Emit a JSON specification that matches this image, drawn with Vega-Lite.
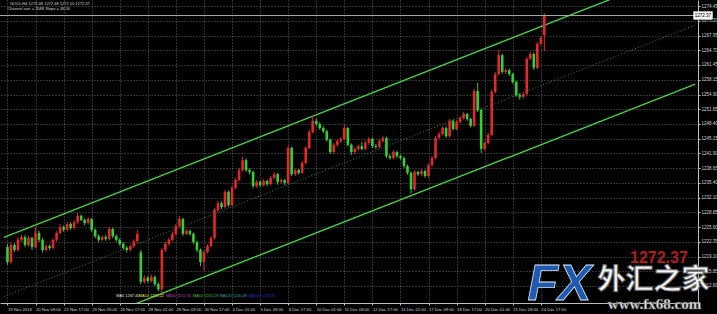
{
  "$schema": "https://vega.github.io/schema/vega-lite/v6.json",
  "width": 698,
  "height": 303,
  "autosize": {"type": "none"},
  "padding": {"left": 0, "top": 0, "right": 19, "bottom": 11},
  "background": "#000000",
  "config": {
    "view": {"stroke": null},
    "axis": {"title": null, "labelFont": "Liberation Sans", "labelColor": "#d2d2d2", "domainColor": "#bdbdbd", "tickColor": "#bdbdbd", "gridColor": "#7c7c7c", "gridDash": [1, 2], "gridWidth": 1, "gridOpacity": 0.8}
  },
  "datasets": {
    "bars": [
      {"i":0,"o":1221.2,"h":1221.8,"l":1217.3,"c":1217.9},
      {"i":1,"o":1217.9,"h":1222.2,"l":1217.5,"c":1221.65},
      {"i":2,"o":1221.65,"h":1222.0,"l":1220.1,"c":1220.55},
      {"i":3,"o":1220.55,"h":1223.3,"l":1220.2,"c":1222.8},
      {"i":4,"o":1222.8,"h":1223.9,"l":1222.4,"c":1223.4},
      {"i":5,"o":1223.4,"h":1223.8,"l":1221.2,"c":1221.65},
      {"i":6,"o":1221.65,"h":1223.7,"l":1221.3,"c":1223.2},
      {"i":7,"o":1223.2,"h":1223.5,"l":1220.6,"c":1221.2},
      {"i":8,"o":1221.2,"h":1225.6,"l":1220.9,"c":1224.3},
      {"i":9,"o":1224.3,"h":1224.8,"l":1222.3,"c":1222.8},
      {"i":10,"o":1222.8,"h":1223.2,"l":1220.0,"c":1220.55},
      {"i":11,"o":1220.55,"h":1221.9,"l":1220.2,"c":1221.4},
      {"i":12,"o":1221.4,"h":1221.8,"l":1220.5,"c":1221.0},
      {"i":13,"o":1221.0,"h":1223.1,"l":1220.7,"c":1222.8},
      {"i":14,"o":1222.8,"h":1224.7,"l":1222.4,"c":1224.3},
      {"i":15,"o":1224.3,"h":1226.3,"l":1224.0,"c":1225.6},
      {"i":16,"o":1225.6,"h":1226.0,"l":1224.6,"c":1225.0},
      {"i":17,"o":1225.0,"h":1226.8,"l":1224.7,"c":1226.3},
      {"i":18,"o":1226.3,"h":1226.7,"l":1225.0,"c":1225.4},
      {"i":19,"o":1225.4,"h":1227.1,"l":1225.1,"c":1226.7},
      {"i":20,"o":1226.7,"h":1228.8,"l":1226.4,"c":1228.1},
      {"i":21,"o":1228.1,"h":1228.4,"l":1226.9,"c":1227.2},
      {"i":22,"o":1227.2,"h":1227.5,"l":1226.0,"c":1226.5},
      {"i":23,"o":1226.5,"h":1227.8,"l":1226.2,"c":1227.4},
      {"i":24,"o":1227.4,"h":1227.6,"l":1224.6,"c":1225.0},
      {"i":25,"o":1225.0,"h":1225.3,"l":1223.2,"c":1223.6},
      {"i":26,"o":1223.6,"h":1224.0,"l":1222.3,"c":1222.8},
      {"i":27,"o":1222.8,"h":1223.8,"l":1222.5,"c":1223.4},
      {"i":28,"o":1223.4,"h":1223.9,"l":1222.6,"c":1223.0},
      {"i":29,"o":1223.0,"h":1225.7,"l":1222.7,"c":1225.2},
      {"i":30,"o":1225.2,"h":1225.5,"l":1223.2,"c":1223.6},
      {"i":31,"o":1223.6,"h":1224.0,"l":1222.4,"c":1222.8},
      {"i":32,"o":1222.8,"h":1223.1,"l":1221.5,"c":1221.9},
      {"i":33,"o":1221.9,"h":1222.3,"l":1220.6,"c":1221.0},
      {"i":34,"o":1221.0,"h":1221.4,"l":1220.0,"c":1220.55},
      {"i":35,"o":1220.55,"h":1221.8,"l":1220.2,"c":1221.4},
      {"i":36,"o":1221.4,"h":1222.9,"l":1221.0,"c":1222.5},
      {"i":37,"o":1222.5,"h":1225.0,"l":1222.2,"c":1224.1},
      {"i":38,"o":1220.0,"h":1220.6,"l":1213.0,"c":1213.5},
      {"i":39,"o":1213.5,"h":1215.0,"l":1213.1,"c":1214.4},
      {"i":40,"o":1214.4,"h":1214.8,"l":1213.3,"c":1213.7},
      {"i":41,"o":1213.7,"h":1215.1,"l":1213.4,"c":1214.6},
      {"i":42,"o":1214.6,"h":1214.9,"l":1212.6,"c":1213.0},
      {"i":43,"o":1213.0,"h":1213.4,"l":1211.4,"c":1211.9},
      {"i":44,"o":1211.9,"h":1221.0,"l":1211.0,"c":1220.55},
      {"i":45,"o":1220.55,"h":1222.4,"l":1220.1,"c":1221.9},
      {"i":46,"o":1221.9,"h":1223.3,"l":1221.5,"c":1222.8},
      {"i":47,"o":1222.8,"h":1224.6,"l":1222.5,"c":1224.1},
      {"i":48,"o":1224.1,"h":1226.3,"l":1223.8,"c":1225.85},
      {"i":49,"o":1225.85,"h":1228.1,"l":1225.5,"c":1227.4},
      {"i":50,"o":1227.4,"h":1227.7,"l":1223.7,"c":1224.1},
      {"i":51,"o":1224.1,"h":1225.2,"l":1223.8,"c":1224.75},
      {"i":52,"o":1224.75,"h":1225.1,"l":1223.7,"c":1224.1},
      {"i":53,"o":1224.1,"h":1224.4,"l":1221.9,"c":1222.3},
      {"i":54,"o":1222.3,"h":1222.6,"l":1220.1,"c":1220.55},
      {"i":55,"o":1220.55,"h":1220.9,"l":1217.0,"c":1217.9},
      {"i":56,"o":1217.9,"h":1220.5,"l":1216.1,"c":1220.1},
      {"i":57,"o":1220.1,"h":1221.8,"l":1219.8,"c":1221.4},
      {"i":58,"o":1221.4,"h":1223.6,"l":1221.1,"c":1223.2},
      {"i":59,"o":1223.2,"h":1229.9,"l":1222.9,"c":1229.4},
      {"i":60,"o":1229.4,"h":1231.4,"l":1229.0,"c":1230.9},
      {"i":61,"o":1230.9,"h":1231.3,"l":1229.6,"c":1230.05},
      {"i":62,"o":1230.05,"h":1233.9,"l":1229.7,"c":1233.4},
      {"i":63,"o":1233.4,"h":1233.7,"l":1230.1,"c":1230.5},
      {"i":64,"o":1230.5,"h":1234.8,"l":1230.2,"c":1234.3},
      {"i":65,"o":1234.3,"h":1236.5,"l":1233.9,"c":1236.0},
      {"i":66,"o":1236.0,"h":1238.7,"l":1235.7,"c":1238.2},
      {"i":67,"o":1238.2,"h":1241.1,"l":1237.9,"c":1240.4},
      {"i":68,"o":1240.4,"h":1240.8,"l":1237.8,"c":1238.2},
      {"i":69,"o":1238.2,"h":1238.6,"l":1237.3,"c":1237.8},
      {"i":70,"o":1237.8,"h":1238.1,"l":1234.2,"c":1234.7},
      {"i":71,"o":1234.7,"h":1236.0,"l":1234.3,"c":1235.6},
      {"i":72,"o":1235.6,"h":1236.0,"l":1234.5,"c":1234.9},
      {"i":73,"o":1234.9,"h":1236.2,"l":1234.6,"c":1235.8},
      {"i":74,"o":1235.8,"h":1236.1,"l":1234.7,"c":1235.1},
      {"i":75,"o":1235.1,"h":1236.9,"l":1234.8,"c":1236.5},
      {"i":76,"o":1236.5,"h":1237.8,"l":1236.2,"c":1237.3},
      {"i":77,"o":1237.3,"h":1237.6,"l":1235.0,"c":1235.6},
      {"i":78,"o":1235.6,"h":1236.4,"l":1235.2,"c":1236.0},
      {"i":79,"o":1236.0,"h":1236.3,"l":1234.9,"c":1235.4},
      {"i":80,"o":1235.4,"h":1243.6,"l":1235.1,"c":1243.1},
      {"i":81,"o":1243.1,"h":1243.4,"l":1236.9,"c":1237.3},
      {"i":82,"o":1237.3,"h":1238.6,"l":1236.9,"c":1238.2},
      {"i":83,"o":1238.2,"h":1238.5,"l":1237.2,"c":1237.6},
      {"i":84,"o":1237.6,"h":1240.2,"l":1237.3,"c":1239.8},
      {"i":85,"o":1239.8,"h":1243.5,"l":1239.5,"c":1243.1},
      {"i":86,"o":1243.1,"h":1247.1,"l":1242.8,"c":1246.6},
      {"i":87,"o":1246.6,"h":1250.2,"l":1246.3,"c":1249.1},
      {"i":88,"o":1249.1,"h":1249.6,"l":1248.0,"c":1248.4},
      {"i":89,"o":1248.4,"h":1248.8,"l":1247.1,"c":1247.5},
      {"i":90,"o":1247.5,"h":1247.9,"l":1246.4,"c":1246.8},
      {"i":91,"o":1246.8,"h":1247.1,"l":1244.5,"c":1244.9},
      {"i":92,"o":1244.9,"h":1245.2,"l":1241.8,"c":1242.2},
      {"i":93,"o":1242.2,"h":1244.2,"l":1241.9,"c":1243.8},
      {"i":94,"o":1243.8,"h":1245.0,"l":1243.4,"c":1244.6},
      {"i":95,"o":1244.6,"h":1245.5,"l":1244.2,"c":1245.1},
      {"i":96,"o":1245.1,"h":1248.3,"l":1244.8,"c":1247.5},
      {"i":97,"o":1247.5,"h":1247.8,"l":1243.4,"c":1243.8},
      {"i":98,"o":1243.8,"h":1244.1,"l":1241.6,"c":1242.2},
      {"i":99,"o":1242.2,"h":1243.3,"l":1241.8,"c":1242.9},
      {"i":100,"o":1242.9,"h":1243.9,"l":1242.5,"c":1243.5},
      {"i":101,"o":1243.5,"h":1244.4,"l":1242.5,"c":1242.9},
      {"i":102,"o":1242.9,"h":1244.6,"l":1242.6,"c":1244.2},
      {"i":103,"o":1244.2,"h":1245.5,"l":1243.8,"c":1245.1},
      {"i":104,"o":1245.1,"h":1245.4,"l":1243.1,"c":1243.5},
      {"i":105,"o":1243.5,"h":1244.0,"l":1242.9,"c":1243.3},
      {"i":106,"o":1243.3,"h":1245.0,"l":1243.0,"c":1244.6},
      {"i":107,"o":1244.6,"h":1245.8,"l":1244.3,"c":1245.3},
      {"i":108,"o":1245.3,"h":1245.6,"l":1240.9,"c":1241.3},
      {"i":109,"o":1241.3,"h":1241.7,"l":1240.5,"c":1240.9},
      {"i":110,"o":1240.9,"h":1242.6,"l":1240.6,"c":1242.2},
      {"i":111,"o":1242.2,"h":1242.5,"l":1240.9,"c":1241.3},
      {"i":112,"o":1241.3,"h":1241.6,"l":1240.5,"c":1240.9},
      {"i":113,"o":1240.9,"h":1241.2,"l":1238.7,"c":1239.1},
      {"i":114,"o":1239.1,"h":1239.4,"l":1237.2,"c":1237.6},
      {"i":115,"o":1237.6,"h":1237.9,"l":1233.1,"c":1234.0},
      {"i":116,"o":1234.0,"h":1238.2,"l":1233.7,"c":1237.8},
      {"i":117,"o":1237.8,"h":1238.1,"l":1236.9,"c":1237.3},
      {"i":118,"o":1237.3,"h":1238.4,"l":1237.0,"c":1238.0},
      {"i":119,"o":1238.0,"h":1238.3,"l":1236.5,"c":1236.9},
      {"i":120,"o":1236.9,"h":1239.7,"l":1236.6,"c":1239.3},
      {"i":121,"o":1239.3,"h":1241.3,"l":1239.0,"c":1240.9},
      {"i":122,"o":1240.9,"h":1245.7,"l":1240.6,"c":1245.3},
      {"i":123,"o":1245.3,"h":1246.6,"l":1245.0,"c":1246.2},
      {"i":124,"o":1246.2,"h":1247.9,"l":1245.9,"c":1247.5},
      {"i":125,"o":1247.5,"h":1247.8,"l":1245.3,"c":1245.7},
      {"i":126,"o":1245.7,"h":1249.5,"l":1245.4,"c":1249.1},
      {"i":127,"o":1249.1,"h":1249.4,"l":1246.9,"c":1247.3},
      {"i":128,"o":1247.3,"h":1249.2,"l":1247.0,"c":1248.8},
      {"i":129,"o":1248.8,"h":1250.1,"l":1248.5,"c":1249.7},
      {"i":130,"o":1249.7,"h":1251.1,"l":1249.4,"c":1250.6},
      {"i":131,"o":1250.6,"h":1250.9,"l":1249.1,"c":1249.5},
      {"i":132,"o":1249.5,"h":1249.8,"l":1247.6,"c":1248.0},
      {"i":133,"o":1248.0,"h":1256.2,"l":1247.7,"c":1255.7},
      {"i":134,"o":1255.7,"h":1257.5,"l":1251.1,"c":1251.5},
      {"i":135,"o":1251.5,"h":1251.8,"l":1242.0,"c":1242.9},
      {"i":136,"o":1242.9,"h":1244.6,"l":1242.5,"c":1244.2},
      {"i":137,"o":1244.2,"h":1246.4,"l":1243.9,"c":1246.0},
      {"i":138,"o":1246.0,"h":1256.0,"l":1245.7,"c":1255.5},
      {"i":139,"o":1255.5,"h":1259.9,"l":1255.2,"c":1259.4},
      {"i":140,"o":1259.4,"h":1264.75,"l":1259.1,"c":1263.6},
      {"i":141,"o":1263.6,"h":1263.9,"l":1259.5,"c":1259.9},
      {"i":142,"o":1259.9,"h":1260.7,"l":1259.5,"c":1260.3},
      {"i":143,"o":1260.3,"h":1260.6,"l":1259.0,"c":1259.4},
      {"i":144,"o":1259.4,"h":1259.7,"l":1257.3,"c":1257.7},
      {"i":145,"o":1257.7,"h":1258.0,"l":1254.4,"c":1254.8},
      {"i":146,"o":1254.8,"h":1255.2,"l":1253.8,"c":1254.4},
      {"i":147,"o":1254.4,"h":1255.4,"l":1254.0,"c":1255.0},
      {"i":148,"o":1255.0,"h":1263.2,"l":1254.7,"c":1262.8},
      {"i":149,"o":1262.8,"h":1264.4,"l":1262.5,"c":1263.9},
      {"i":150,"o":1263.9,"h":1264.2,"l":1260.3,"c":1260.8},
      {"i":151,"o":1260.8,"h":1266.5,"l":1260.5,"c":1266.1},
      {"i":152,"o":1266.1,"h":1267.9,"l":1265.8,"c":1267.4},
      {"i":153,"o":1268.0,"h":1272.9,"l":1264.5,"c":1272.37}
    ],
    "channel": [
      {"side": "upper", "i": -1, "p": 1223.33},
      {"side": "upper", "i": 196, "p": 1283.3},
      {"side": "lower", "i": -1, "p": 1197.25},
      {"side": "lower", "i": 196, "p": 1257.2}
    ],
    "middle": [
      {"i": -1, "p": 1210.29},
      {"i": 196, "p": 1270.26}
    ]
  },
  "layer": [
    {
      "data": {"name": "channel"},
      "mark": {"type": "line", "color": "#3fd43f", "strokeWidth": 1.4, "clip": true},
      "encoding": {
        "x": {
          "field": "i", "type": "quantitative",
          "scale": {"domain": [-0.702, 195.37], "nice": false, "zero": false},
          "axis": {
            "orient": "bottom",
            "values": [0, 8, 16, 24, 32, 40, 48, 56, 64, 72, 80, 88, 96, 104, 112, 120, 128, 136, 144, 152],
            "tickCount": 200,
            "labelExpr": "['19 Nov 2018','20 Nov 09:00','21 Nov 17:00','23 Nov 05:00','26 Nov 17:00','28 Nov 01:00','29 Nov 09:00','30 Nov 17:00','4 Dec 01:00','5 Dec 09:00','6 Dec 17:00','10 Dec 01:00','11 Dec 09:00','12 Dec 17:00','14 Dec 01:00','17 Dec 09:00','18 Dec 17:00','20 Dec 01:00','21 Dec 09:00','24 Dec 17:00'][round(datum.value / 8)]",
            "labelAlign": "left", "labelFontSize": 4.2, "labelPadding": 2, "labelFlush": false, "labelOverlap": false,
            "tickSize": 2, "grid": true
          }
        },
        "y": {
          "field": "p", "type": "quantitative",
          "scale": {"domain": [1208.84, 1275.8], "nice": false, "zero": false},
          "axis": {
            "orient": "right",
            "values": [1274.45, 1271.2, 1267.95, 1264.7, 1261.45, 1258.15, 1254.9, 1251.65, 1248.4, 1245.15, 1241.9, 1238.65, 1235.4, 1232.1, 1228.85, 1225.6, 1222.35, 1219.1, 1215.85, 1212.6],
            "tickCount": 200,
            "format": ".2f", "labelFontSize": 4.5, "labelPadding": 1, "labelOverlap": false, "labelFlush": false,
            "tickSize": 2, "grid": true
          }
        },
        "detail": {"field": "side"}
      }
    },
    {
      "data": {"name": "middle"},
      "mark": {"type": "line", "color": "#2f8a2f", "strokeWidth": 1, "strokeDash": [1, 2], "clip": true},
      "encoding": {
        "x": {"field": "i", "type": "quantitative"},
        "y": {"field": "p", "type": "quantitative"}
      }
    },
    {
      "data": {"name": "bars"},
      "mark": {"type": "rule", "strokeWidth": 1},
      "encoding": {
        "x": {"field": "i", "type": "quantitative"},
        "y": {"field": "l", "type": "quantitative"},
        "y2": {"field": "h"},
        "color": {"condition": {"test": "datum.c >= datum.o", "value": "#e8262a"}, "value": "#33d033"}
      }
    },
    {
      "data": {"name": "bars"},
      "mark": {"type": "bar", "size": 2.6},
      "encoding": {
        "x": {"field": "i", "type": "quantitative"},
        "y": {"field": "o", "type": "quantitative"},
        "y2": {"field": "c"},
        "color": {"condition": {"test": "datum.c >= datum.o", "value": "#e8262a"}, "value": "#33d033"}
      }
    },
    {
      "data": {"values": [{"bid": 1272.37}]},
      "mark": {"type": "rule", "color": "#a8a8a8", "strokeWidth": 1},
      "encoding": {"y": {"field": "bid", "type": "quantitative"}}
    },
    {
      "data": {"values": [{"bid": 1272.37}]},
      "mark": {"type": "rect", "color": "#f2f2f2", "clip": false},
      "encoding": {
        "x": {"datum": 195.45}, "x2": {"datum": 201},
        "y": {"datum": 1273.3}, "y2": {"datum": 1271.45}
      }
    },
    {
      "data": {"values": [{"bid": 1272.37}]},
      "mark": {"type": "text", "color": "#000000", "font": "Liberation Sans", "fontSize": 4.5, "align": "left", "baseline": "middle", "clip": false},
      "encoding": {
        "x": {"datum": 195.9},
        "y": {"field": "bid", "type": "quantitative"},
        "text": {"field": "bid", "format": ".2f"}
      }
    },
    {
      "data": {"values": [{"t": "GOLD,H4  1272.48 1272.48 1272.10 1272.37"}]},
      "mark": {"type": "text", "color": "#d6d6d6", "font": "Liberation Sans", "fontSize": 4, "align": "left", "baseline": "middle"},
      "encoding": {"x": {"datum": 0.7}, "y": {"datum": 1275.0}, "text": {"field": "t"}}
    },
    {
      "data": {"values": [{"t": "Channel size = 3588  Slope = 38.56"}]},
      "mark": {"type": "text", "color": "#d6d6d6", "font": "Liberation Sans", "fontSize": 4, "align": "left", "baseline": "middle"},
      "encoding": {"x": {"datum": 0}, "y": {"datum": 1273.9}, "text": {"field": "t"}}
    },
    {
      "data": {"values": [{"t": "MA5 1267.40"}]},
      "mark": {"type": "text", "color": "#e0e0e0", "font": "Liberation Sans", "fontSize": 3.9, "align": "left", "baseline": "middle"},
      "encoding": {"x": {"datum": 31.0}, "y": {"datum": 1210.4}, "text": {"field": "t"}}
    },
    {
      "data": {"values": [{"t": "MA10 1263.22"}]},
      "mark": {"type": "text", "color": "#e6e62a", "font": "Liberation Sans", "fontSize": 3.9, "align": "left", "baseline": "middle"},
      "encoding": {"x": {"datum": 37.4}, "y": {"datum": 1210.4}, "text": {"field": "t"}}
    },
    {
      "data": {"values": [{"t": "MA30 1255.92"}]},
      "mark": {"type": "text", "color": "#c235c2", "font": "Liberation Sans", "fontSize": 3.9, "align": "left", "baseline": "middle"},
      "encoding": {"x": {"datum": 45.1}, "y": {"datum": 1210.4}, "text": {"field": "t"}}
    },
    {
      "data": {"values": [{"t": "MA60 1250.29"}]},
      "mark": {"type": "text", "color": "#3cc03c", "font": "Liberation Sans", "fontSize": 3.9, "align": "left", "baseline": "middle"},
      "encoding": {"x": {"datum": 52.8}, "y": {"datum": 1210.4}, "text": {"field": "t"}}
    },
    {
      "data": {"values": [{"t": "MA120 1240.48"}]},
      "mark": {"type": "text", "color": "#2fa6a6", "font": "Liberation Sans", "fontSize": 3.9, "align": "left", "baseline": "middle"},
      "encoding": {"x": {"datum": 60.4}, "y": {"datum": 1210.4}, "text": {"field": "t"}}
    },
    {
      "data": {"values": [{"t": "MA240 1235.85"}]},
      "mark": {"type": "text", "color": "#2a2ad0", "font": "Liberation Sans", "fontSize": 3.9, "align": "left", "baseline": "middle"},
      "encoding": {"x": {"datum": 68.6}, "y": {"datum": 1210.4}, "text": {"field": "t"}}
    },
    {
      "data": {"values": [{"bid": 1272.37}]},
      "mark": {"type": "text", "color": "#d42020", "font": "Liberation Sans", "fontWeight": "bold", "fontSize": 16, "align": "right", "baseline": "middle", "opacity": 0.85, "clip": false},
      "encoding": {"x": {"datum": 193.9}, "y": {"datum": 1218.8}, "text": {"field": "bid", "format": ".2f"}}
    },
    {
      "data": {"values": [{"t": "FX"}]},
      "mark": {"type": "text", "color": "#1e5bb0", "font": "Liberation Sans", "fontWeight": "bold", "fontStyle": "italic", "fontSize": 50, "align": "left", "baseline": "alphabetic", "stroke": "#d8e2f0", "strokeWidth": 0.8, "clip": false},
      "encoding": {"x": {"datum": 148.2}, "y": {"datum": 1209.5}, "text": {"field": "t"}}
    },
    {
      "data": {"values": [{"t": "外汇之家"}]},
      "mark": {"type": "text", "color": "#f4f4f4", "font": "Noto Sans CJK SC", "fontWeight": "bold", "fontSize": 28, "align": "center", "baseline": "alphabetic", "stroke": "#6a6a6a", "strokeWidth": 1, "clip": false},
      "encoding": {"x": {"datum": 184.1}, "y": {"datum": 1212.0}, "text": {"field": "t"}}
    },
    {
      "data": {"values": [{"t": "www.fx68.com"}]},
      "mark": {"type": "text", "color": "#eeeeee", "font": "Liberation Serif", "fontWeight": "bold", "fontSize": 15, "align": "center", "baseline": "alphabetic", "stroke": "#6a6a6a", "strokeWidth": 0.6, "clip": false},
      "encoding": {"x": {"datum": 184.4}, "y": {"datum": 1207.6}, "text": {"field": "t"}}
    }
  ]
}
